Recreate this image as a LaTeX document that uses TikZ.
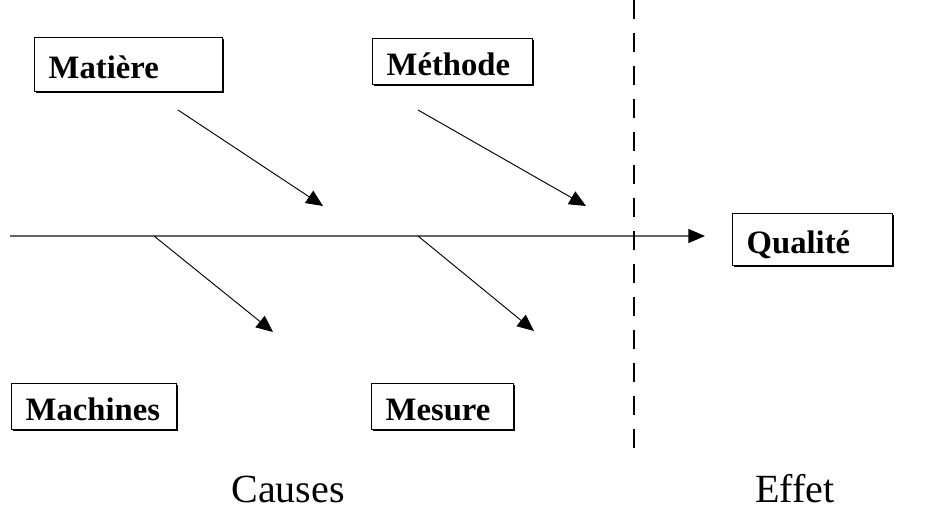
\documentclass[tikz,border=0pt]{standalone}
\usepackage{fontspec}
\setmainfont{Liberation Serif}
\usetikzlibrary{arrows.meta,shadows}

\begin{document}
\begin{tikzpicture}[x=0.75pt,y=-0.75pt]
\tikzstyle{boite}=[draw, line width=1.1pt, fill=white, anchor=north west, inner xsep=10.5pt, inner ysep=0pt, align=left, text height=20pt, text depth=0pt, font=\fontsize{24.5}{28}\selectfont\bfseries, drop shadow={shadow xshift=1.3pt, shadow yshift=-1.3pt, fill=black, opacity=1}]
\tikzstyle{fleche}=[line width=0.7pt, -{Triangle[length=12.5pt,width=11pt]}]
\tikzstyle{axe}=[line width=1pt, black!60, -{Triangle[length=12.5pt,width=10.5pt,color=black]}]
\tikzstyle{titre}=[font=\fontsize{30}{36}\selectfont]

\useasboundingbox (0,0) rectangle (935,527);

\node[boite, text width=120pt, minimum height=40.5pt] (matiere) at (34,37) {Matière};
\node[boite, text width=99pt, minimum height=34.5pt] (methode) at (372,38) {Méthode};
\node[boite, text width=99pt, minimum height=39pt] (qualite) at (732,213) {Qualité};
\node[boite, text width=102.75pt, minimum height=34.5pt] (machines) at (11,383) {Machines};
\node[boite, text width=85.5pt, minimum height=34.5pt] (mesure) at (371,383) {Mesure};

\node[titre] (causes) at (288,489) {Causes};
\node[titre] (effet) at (795,489) {Effet};

\coordinate (debut) at (10,236);
\coordinate (fin) at (705,236);
\coordinate (haut) at (634,0);
\coordinate (bas) at (634,460);
\coordinate (matiere-a) at (178,110);
\coordinate (matiere-b) at (323,206);
\coordinate (methode-a) at (418,110);
\coordinate (methode-b) at (586,206);
\coordinate (machines-a) at (154,236);
\coordinate (machines-b) at (273,332);
\coordinate (mesure-a) at (418,236);
\coordinate (mesure-b) at (534,331);

\draw[axe] (debut) -- (fin);
\draw[fleche] (matiere-a) -- (matiere-b);
\draw[fleche] (methode-a) -- (methode-b);
\draw[fleche] (machines-a) -- (machines-b);
\draw[fleche] (mesure-a) -- (mesure-b);
\draw[line width=1.6pt, dash pattern=on 14.25pt off 10.5pt] (haut) -- (bas);
\end{tikzpicture}
\end{document}
